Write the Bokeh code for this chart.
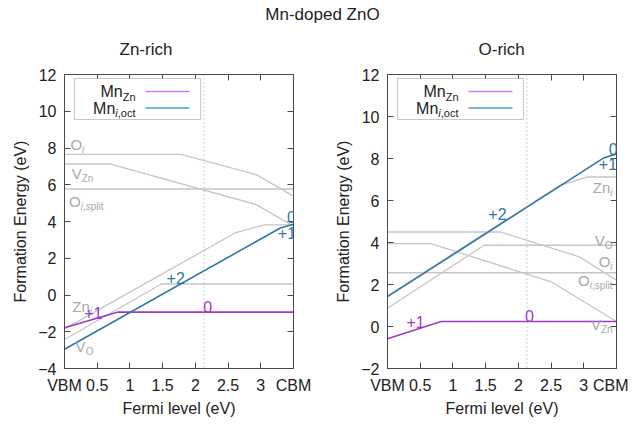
from bokeh.plotting import figure
from bokeh.models import (Range1d, FixedTicker, LinearAxis, Label, BoxAnnotation,
                          Arrow, Span, Div, CustomJSTickFormatter)
from bokeh.layouts import column, row
from bokeh.embed import file_html
from bokeh.resources import INLINE

# ---------------- data ----------------
CBM = 3.5
x_ticks = [0, 0.5, 1, 1.5, 2, 2.5, 3, 3.5]
x_tick_labels = {0: "VBM", 3.5: "CBM"}
fermi_marker = 2.13

zr_y_ticks = [-4, -2, 0, 2, 4, 6, 8, 10, 12]
or_y_ticks = [-2, 0, 2, 4, 6, 8, 10, 12]

# Zn-rich panel
zr_MnZn_x = [0, 0.82, 3.5]
zr_MnZn_y = [-1.78, -0.93, -0.93]
zr_Mni_x = [0, 3.3, 3.5]
zr_Mni_y = [-2.95, 3.65, 3.85]
zr_Oi_x = [0, 1.78, 2.93, 3.5]
zr_Oi_y = [7.65, 7.65, 6.55, 5.38]
zr_VZn_x = [0, 0.69, 2.93, 3.5]
zr_VZn_y = [7.13, 7.13, 4.92, 3.75]
zr_Oisplit_x = [0, 3.5]
zr_Oisplit_y = [5.77, 5.77]
zr_Zni_x = [0, 2.62, 3.06, 3.5]
zr_Zni_y = [-1.84, 3.4, 3.82, 3.82]
zr_VO_x = [0, 1.48, 3.5]
zr_VO_y = [-2.42, 0.6, 0.6]

# O-rich panel
or_MnZn_x = [0, 0.82, 3.5]
or_MnZn_y = [-0.58, 0.24, 0.24]
or_Mni_x = [0, 3.3, 3.5]
or_Mni_y = [1.42, 8.02, 8.22]
or_Oi_x = [0, 1.73, 2.93, 3.5]
or_Oi_y = [4.5, 4.5, 3.32, 2.21]
or_VZn_x = [0, 0.66, 2.5, 3.5]
or_VZn_y = [3.95, 3.95, 2.13, 0.24]
or_Oisplit_x = [0, 3.5]
or_Oisplit_y = [2.56, 2.56]
or_Zni_x = [0, 2.62, 3.06, 3.5]
or_Zni_y = [1.46, 6.7, 7.12, 7.12]
or_VO_x = [0, 1.48, 3.5]
or_VO_y = [0.87, 3.87, 3.87]

# ---------------- styles ----------------
FONT = "Liberation Sans"
TXT = "#222222"
PURPLE = "#9b3cc6"
BLUE = "#2f78a6"
GRAY = "#c6c6c6"
GRAYTXT = "#a9a9a9"
FRAME = "#4a4a4a"
FW, FH = 229, 294

WIDTHS = {"M": .833, "n": .556, "O": .778, "V": .667, "Z": .611, "i": .222,
          ",": .278, "s": .5, "p": .556, "l": .222, "t": .278, "o": .556,
          "c": .5, "+": .584, "0": .556, "1": .556, "2": .556}


def tw(s, size):
    return sum(WIDTHS.get(ch, .556) for ch in s) * size


def rich_label(p, x, y, segs, color, align="left"):
    """segs: list of (text, size, italic, dy)"""
    total = sum(tw(t, sz) for t, sz, it, dy in segs)
    off = {"left": 0, "right": -total, "center": -total / 2}[align]
    for t, sz, it, dy in segs:
        p.add_layout(Label(x=x, y=y, x_offset=off, y_offset=dy, text=t,
                           text_font=FONT, text_font_size=f"{sz}px",
                           text_font_style="italic" if it else "normal",
                           text_color=color, text_align="left",
                           text_baseline="middle"))
        off += tw(t, sz)


def make_fig(title, y_range, y_ticks, bl, br, t_off):
    p = figure(frame_width=FW, frame_height=FH, x_range=Range1d(0, CBM),
               y_range=Range1d(*y_range), output_backend="svg",
               toolbar_location=None, min_border_left=bl, min_border_right=br,
               min_border_top=42, min_border_bottom=50)
    p.title.text = title
    p.title.text_font = FONT
    p.title.text_font_size = "17px"
    p.title.text_font_style = "normal"
    p.title.text_color = TXT
    p.title.align = "left"
    p.title.offset = t_off
    p.title.standoff = 28
    p.title.vertical_align = "top"
    p.grid.visible = False
    p.outline_line_color = FRAME
    p.xaxis.ticker = FixedTicker(ticks=x_ticks)
    p.xaxis.major_label_overrides = x_tick_labels
    p.yaxis.ticker = FixedTicker(ticks=y_ticks)
    p.xaxis.axis_label = "Fermi level (eV)"
    p.yaxis.axis_label = "Formation Energy (eV)"
    for ax in [p.xaxis[0], p.yaxis[0]]:
        ax.major_tick_in = 6
        ax.major_tick_out = 0
        ax.minor_tick_line_color = None
        ax.axis_line_color = FRAME
        ax.major_tick_line_color = FRAME
        ax.major_label_text_font = FONT
        ax.major_label_text_font_size = "16px"
        ax.major_label_text_color = TXT
        ax.axis_label_text_font = FONT
        ax.axis_label_text_font_size = "16px"
        ax.axis_label_text_font_style = "normal"
        ax.axis_label_text_color = TXT
        ax.major_label_standoff = 8
    p.xaxis.axis_label_standoff = 3
    p.yaxis.axis_label_standoff = 6
    blank = CustomJSTickFormatter(code="return ''")
    top = LinearAxis(ticker=FixedTicker(ticks=x_ticks), formatter=blank,
                     major_tick_in=6, major_tick_out=0, minor_tick_line_color=None,
                     axis_line_color=FRAME, major_tick_line_color=FRAME,
                     major_label_standoff=0)
    right = LinearAxis(ticker=FixedTicker(ticks=y_ticks), formatter=blank,
                       major_tick_in=6, major_tick_out=0, minor_tick_line_color=None,
                       axis_line_color=FRAME, major_tick_line_color=FRAME,
                       major_label_standoff=0)
    p.add_layout(top, "above")
    p.add_layout(right, "right")
    p.add_layout(Span(location=fermi_marker, dimension="height", line_color="#9a9a9a",
                      line_dash="1 3", line_width=1))
    return p


def px2data(p, dx, dy):
    xr, yr = p.x_range, p.y_range
    return (xr.start + dx / FW * (xr.end - xr.start),
            yr.end - dy / FH * (yr.end - yr.start))


def add_legend(p):
    l, t = px2data(p, 10, 4)
    r, b = px2data(p, 136, 45)
    p.add_layout(BoxAnnotation(left=l, right=r, top=t, bottom=b, fill_color="white",
                               fill_alpha=1, line_color=FRAME, line_width=1))
    xe, y1 = px2data(p, 71, 17)
    _, y2 = px2data(p, 71, 33.5)
    rich_label(p, xe, y1, [("Mn", 16, False, 0), ("Zn", 11, False, -5)], TXT, "right")
    rich_label(p, xe, y2, [("Mn", 16, False, 0), ("i", 11, True, -5),
                           (",oct", 11, False, -5)], TXT, "right")
    xs, _ = px2data(p, 81, 0)
    xt, _ = px2data(p, 125, 0)
    p.add_layout(Arrow(end=None, x_start=xs, y_start=y1, x_end=xt, y_end=y1,
                       line_color="#cc80ee", line_width=1.5))
    p.add_layout(Arrow(end=None, x_start=xs, y_start=y2, x_end=xt, y_end=y2,
                       line_color="#4a9ccc", line_width=1.5))


def draw(p, series):
    for xs, ys, c, w in series:
        p.line(xs, ys, line_color=c, line_width=w)


# ---------------- Zn-rich ----------------
p1 = make_fig("Zn-rich", (-4, 12), zr_y_ticks, 64, 32, 55)
draw(p1, [(zr_Oi_x, zr_Oi_y, GRAY, 1.3), (zr_VZn_x, zr_VZn_y, GRAY, 1.3),
          (zr_Oisplit_x, zr_Oisplit_y, GRAY, 1.3), (zr_Zni_x, zr_Zni_y, GRAY, 1.3),
          (zr_VO_x, zr_VO_y, GRAY, 1.3),
          (zr_MnZn_x, zr_MnZn_y, PURPLE, 1.6), (zr_Mni_x, zr_Mni_y, BLUE, 1.6)])
rich_label(p1, 0.09, 8.2, [("O", 15, False, 0), ("i", 10, True, -5)], GRAYTXT)
rich_label(p1, 0.11, 6.6, [("V", 15, False, 0), ("Zn", 10, False, -5)], GRAYTXT)
rich_label(p1, 0.07, 5.1, [("O", 15, False, 0), ("i", 10, True, -5),
                           (",split", 10, False, -5)], GRAYTXT)
rich_label(p1, 0.12, -0.65, [("Zn", 15, False, 0), ("i", 10, True, -5)], GRAYTXT)
rich_label(p1, 0.17, -2.8, [("V", 15, False, 0), ("O", 10, False, -5)], GRAYTXT)
rich_label(p1, 0.44, -0.96, [("+1", 16, False, 0)], PURPLE, "center")
rich_label(p1, 2.19, -0.65, [("0", 16, False, 0)], PURPLE, "center")
rich_label(p1, 1.70, 0.95, [("+2", 16, False, 0)], BLUE, "center")
rich_label(p1, 3.47, 4.22, [("0", 16, False, 0)], BLUE, "center")
rich_label(p1, 3.40, 3.40, [("+1", 16, False, 0)], BLUE, "center")
add_legend(p1)

# ---------------- O-rich ----------------
p2 = make_fig("O-rich", (-2, 12), or_y_ticks, 62, 12, 91)
draw(p2, [(or_Oi_x, or_Oi_y, GRAY, 1.3), (or_VZn_x, or_VZn_y, GRAY, 1.3),
          (or_Oisplit_x, or_Oisplit_y, GRAY, 1.3), (or_Zni_x, or_Zni_y, GRAY, 1.3),
          (or_VO_x, or_VO_y, GRAY, 1.3),
          (or_MnZn_x, or_MnZn_y, PURPLE, 1.6), (or_Mni_x, or_Mni_y, BLUE, 1.6)])
xr_end = 3.44
rich_label(p2, xr_end, 6.64, [("Zn", 15, False, 0), ("i", 10, True, -5)], GRAYTXT, "right")
rich_label(p2, xr_end, 4.1, [("V", 15, False, 0), ("O", 10, False, -5)], GRAYTXT, "right")
rich_label(p2, xr_end, 3.08, [("O", 15, False, 0), ("i", 10, True, -5)], GRAYTXT, "right")
rich_label(p2, xr_end, 2.2, [("O", 15, False, 0), ("i", 10, True, -5),
                             (",split", 10, False, -5)], GRAYTXT, "right")
rich_label(p2, xr_end, 0.08, [("V", 15, False, 0), ("Zn", 10, False, -5)], GRAYTXT, "right")
rich_label(p2, 0.43, 0.22, [("+1", 16, False, 0)], PURPLE, "center")
rich_label(p2, 2.17, 0.5, [("0", 16, False, 0)], PURPLE, "center")
rich_label(p2, 1.68, 5.34, [("+2", 16, False, 0)], BLUE, "center")
rich_label(p2, 3.45, 8.45, [("0", 16, False, 0)], BLUE, "center")
rich_label(p2, 3.37, 7.74, [("+1", 16, False, 0)], BLUE, "center")
add_legend(p2)

div = Div(text="Mn-doped ZnO", width=637, height=25, margin=(0, 0, 0, 0),
          styles={"font-family": FONT, "font-size": "17px", "color": TXT,
                  "text-align": "center", "line-height": "18px",
                  "padding-top": "6px", "text-indent": "8px"})

layout = column(div, row(p1, p2, spacing=0), spacing=0)
open("out.html", "w").write(file_html(layout, INLINE))
